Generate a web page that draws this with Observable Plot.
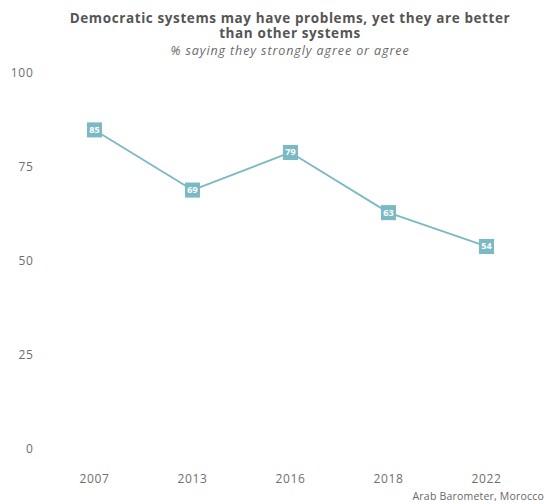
<!DOCTYPE html>
<html>
<head>
<meta charset="utf-8">
<script src="https://cdn.jsdelivr.net/npm/d3@7"></script>
<script src="https://cdn.jsdelivr.net/npm/@observablehq/plot@0.6"></script>
<style>
  html, body { margin: 0; padding: 0; background: #fff; font-family: "Open Sans", sans-serif; overflow: hidden; }
  #wrap { width: 549px; height: 504px; position: relative; overflow: hidden; }
  #title { position: absolute; top: 11px; left: 45px; width: 490px; text-align: center; font-weight: 700; font-size: 13.5px; line-height: 15px; letter-spacing: 0.6px; color: #555; }
  #subtitle { position: absolute; top: 44px; left: 45px; width: 490px; text-align: center; font-style: italic; font-size: 12.5px; line-height: 13px; letter-spacing: 0.9px; color: #6a6a6a; }
  #chart { position: absolute; top: 58px; left: 0; }
  #chart svg g[aria-label$="axis tick label"] text { letter-spacing: 0.7px; }
  #caption { position: absolute; top: 490px; right: 5px; white-space: nowrap; font-size: 10.5px; line-height: 13px; letter-spacing: 0.2px; color: #666; }
</style>
</head>
<body>
<div id="wrap">
  <div id="title">Democratic systems may have problems, yet they are better<br>than other systems</div>
  <div id="subtitle">% saying they strongly agree or agree</div>
  <div id="chart"></div>
  <div id="caption">Arab Barometer, Morocco</div>
</div>
<script>
const years = ["2007", "2013", "2016", "2018", "2022"];
const values = [85, 69, 79, 63, 54];
const yTicks = [0, 25, 50, 75, 100];

const data = years.map((y, i) => ({year: y, value: values[i]}));
const color = "#7bb9c4";

const plot = Plot.plot({
  width: 549,
  height: 430,
  marginTop: 15,
  marginBottom: 39,
  marginLeft: 45,
  marginRight: 14,
  style: { fontFamily: "Open Sans, sans-serif", fontSize: "12px", color: "#6e6e6e" },
  x: { type: "point", domain: years, padding: 0.5, round: false, label: null },
  y: { domain: [0, 100], label: null },
  marks: [
    Plot.axisX({ tickSize: 0, tickPadding: 25, fontSize: 12, fill: "#6e6e6e" }),
    Plot.axisY({ ticks: yTicks, tickSize: 0, tickPadding: 12, fontSize: 12, fill: "#6e6e6e" }),
    Plot.line(data, { x: "year", y: "value", stroke: color, strokeWidth: 1.8 }),
    Plot.dot(data, { x: "year", y: "value", symbol: "square", r: 8.5, fill: color, stroke: "none" }),
    Plot.text(data, { x: "year", y: "value", text: d => String(d.value), fill: "white", fontWeight: "bold", fontSize: 9 })
  ]
});
document.getElementById("chart").appendChild(plot);
</script>
</body>
</html>
